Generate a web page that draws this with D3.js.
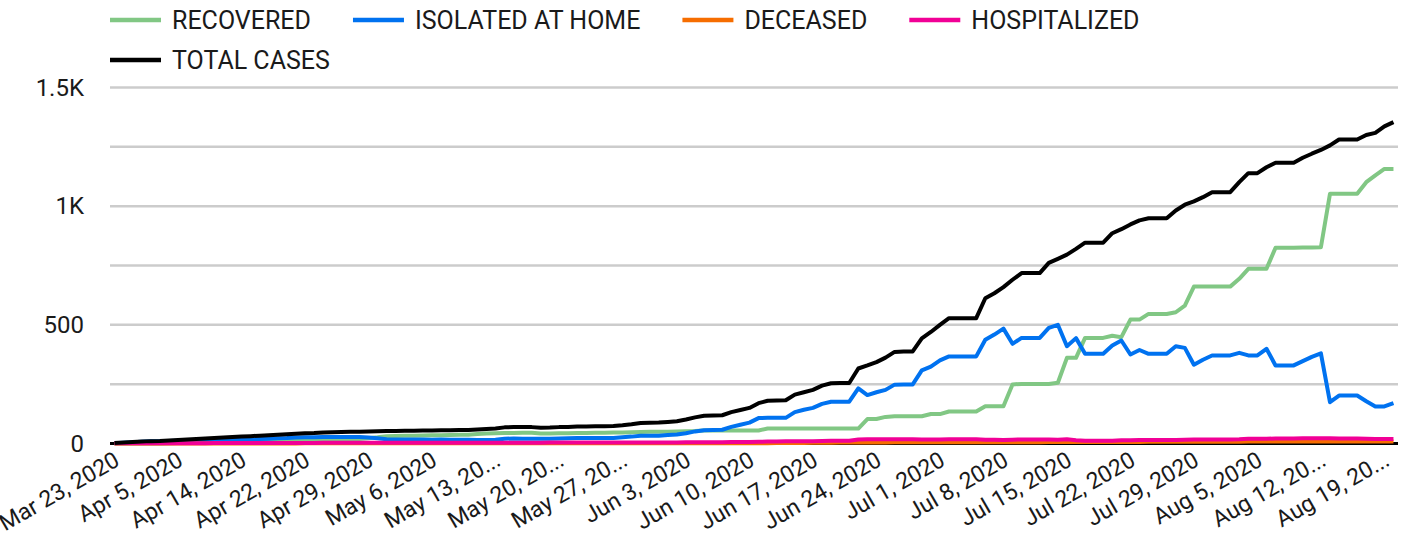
<!DOCTYPE html>
<html>
<head>
<meta charset="utf-8">
<script src="https://cdn.jsdelivr.net/npm/d3@7"></script>
<style>
  html, body { margin: 0; padding: 0; background: #fff; }
  svg { display: block; font-family: Roboto, "Noto Sans", sans-serif; }
</style>
</head>
<body>
<svg id="chart" width="1407" height="542"></svg>
<script>
// ---- DATA ----
const dates = [
  "03-23","03-25","03-27","03-29","03-31","04-02","04-03","04-05","04-06","04-08",
  "04-09","04-10","04-12","04-13","04-14","04-15","04-16","04-17","04-19","04-20","04-21",
  "04-22","04-23","04-24","04-25","04-26","04-27","04-28","04-29","04-30",
  "05-01","05-02","05-03","05-04","05-05","05-06","05-07","05-08","05-09","05-10",
  "05-11","05-12","05-13","05-14","05-15","05-16","05-17","05-18","05-19","05-20",
  "05-21","05-22","05-23","05-24","05-25","05-26","05-27","05-28","05-29","05-30","05-31",
  "06-01","06-02","06-03","06-04","06-05","06-06","06-07","06-08","06-09","06-10",
  "06-11","06-12","06-13","06-14","06-15","06-16","06-17","06-18","06-19","06-20",
  "06-21","06-22","06-23","06-24","06-25","06-26","06-27","06-28","06-29","06-30",
  "07-01","07-02","07-03","07-04","07-05","07-06","07-07","07-08","07-09","07-10",
  "07-11","07-12","07-13","07-14","07-15","07-16","07-17","07-18","07-19","07-20",
  "07-21","07-22","07-23","07-24","07-25","07-26","07-27","07-28","07-29","07-30","07-31",
  "08-01","08-02","08-03","08-04","08-05","08-06","08-07","08-08","08-09","08-10",
  "08-11","08-12","08-13","08-14","08-15","08-16","08-17","08-18","08-19","08-20"
];

const totalCases = [
  2,4,6,8,10,11,13,15,17,19, 21,23,25,27,29,31,33,35,37,39,41,
  43,44,46,47,48,49,50,51,52,
  53,53,54,54,55,55,56,56,57,57, 59,61,63,68,69,69,69,66,67,69,
  70,72,72,73,73,74,77,81,86,87,88,
  91,94,101,110,117,118,119,132,141,150,
  170,180,181,182,206,216,226,244,254,255,
  255,316,329,343,362,386,388,388,443,470,
  500,528,528,528,528,612,633,659,690,718,
  718,718,761,778,796,820,846,846,846,886,
  903,923,940,949,949,949,982,1006,1020,1038,1059,
  1059,1059,1101,1139,1139,1164,1183,1183,1183,1204,
  1221,1237,1256,1281,1281,1281,1300,1309,1336,1354
];

const recovered = [
  0,0,0,0,0,0,1,2,3,4, 5,6,8,10,11,12,12,13,13,14,14,
  14,15,15,16,17,18,19,22,26,
  31,32,33,33,34,35,35,36,37,37, 40,42,43,44,44,45,45,42,42,43,
  43,44,44,45,45,46,46,47,48,49,50,
  50,51,52,53,55,55,55,55,55,55,
  55,63,63,63,63,63,63,63,63,63,
  63,63,103,103,112,115,115,115,115,124,
  124,135,135,135,135,157,157,157,249,251,
  251,251,251,256,361,361,445,445,445,454,
  448,522,522,546,546,546,553,581,661,661,661,
  661,661,694,736,736,736,825,825,825,826,
  826,827,1052,1052,1052,1052,1101,1130,1157,1157
];

const isolatedAtHome = [
  1,3,5,7,9,10,11,12,13,14, 15,15,15,15,16,17,19,20,22,23,25,
  26,26,27,27,27,27,27,25,22,
  18,17,17,17,17,16,17,16,16,16, 15,15,16,20,21,20,20,20,20,21,
  22,23,23,23,23,23,26,29,33,33,33,
  36,38,43,51,56,57,58,70,79,88,
  107,108,108,108,132,142,150,167,176,176,
  176,232,204,216,226,248,249,249,308,324,
  350,367,367,367,367,437,459,484,420,445,
  445,445,487,500,410,444,378,378,378,413,
  434,375,394,378,378,378,410,403,332,353,371,
  371,371,382,371,371,399,329,329,329,347,
  365,380,174,202,202,202,178,156,156,170
];

const deceased = [
  0,0,0,0,0,0,0,0,0,0, 0,0,0,0,0,0,0,0,0,0,0,
  1,1,1,1,1,1,1,1,1,
  1,1,1,1,1,1,1,1,1,1, 1,1,1,1,1,1,1,1,1,1,
  1,1,1,1,1,1,1,1,1,1,1,
  1,1,1,1,1,1,1,1,1,1,
  1,1,2,2,2,2,3,3,3,4,
  4,4,4,4,4,5,5,5,5,5,
  5,5,5,5,5,5,5,5,5,5,
  5,5,6,6,6,6,6,6,6,6,
  6,6,6,7,7,7,7,7,7,7,7,
  7,7,7,8,8,8,8,8,8,8,
  8,8,8,8,8,8,8,8,8,8
];

const hospitalized = [
  1,1,1,1,1,1,1,1,1,1, 1,2,2,2,2,2,2,2,2,2,2,
  2,2,3,3,3,3,3,3,3,
  3,3,3,3,3,3,3,3,3,3, 3,3,3,3,3,3,3,3,4,4,
  4,4,4,4,4,4,4,4,4,4,4,
  4,4,5,5,5,5,5,6,6,6,
  7,8,8,9,9,9,10,11,12,12,
  12,17,18,18,18,18,18,18,17,17,
  17,18,18,18,18,16,16,15,16,17,
  17,17,17,16,18,14,12,12,12,12,
  14,14,15,15,15,15,15,16,17,17,17,
  17,17,18,20,20,20,21,21,21,22,
  22,22,22,21,21,21,20,19,19,19
];

const tickDates = ["03-23","04-05","04-14","04-22","04-29","05-06","05-13","05-20","05-27",
  "06-03","06-10","06-17","06-24","07-01","07-08","07-15","07-22","07-29","08-05","08-12","08-19"];
const tickLabels = ["Mar 23, 2020","Apr 5, 2020","Apr 14, 2020","Apr 22, 2020","Apr 29, 2020",
  "May 6, 2020","May 13, 20...","May 20, 20...","May 27, 20...","Jun 3, 2020","Jun 10, 2020",
  "Jun 17, 2020","Jun 24, 2020","Jul 1, 2020","Jul 8, 2020","Jul 15, 2020","Jul 22, 2020",
  "Jul 29, 2020","Aug 5, 2020","Aug 12, 20...","Aug 19, 20..."];

const yTickValues = [0, 500, 1000, 1500];
const yTickLabels = ["0", "500", "1K", "1.5K"];
const yGridValues = [250, 500, 750, 1000, 1250, 1500];

const seriesNames = ["RECOVERED", "ISOLATED AT HOME", "DECEASED", "HOSPITALIZED", "TOTAL CASES"];
const seriesColors = ["#81c784", "#0072f0", "#f66d00", "#f10096", "#000000"];
const seriesValues = [recovered, isolatedAtHome, deceased, hospitalized, totalCases];

// ---- CHART ----
const svg = d3.select("#chart");
const plotLeft = 110, plotRight = 1398, plotTop = 87.5, plotBottom = 443.5;

const x = d3.scalePoint().domain(dates).range([plotLeft, plotRight]).padding(0.5);
const y = d3.scaleLinear().domain([0, 1500]).range([plotBottom, plotTop]);

// gridlines
svg.append("g")
  .selectAll("line")
  .data(yGridValues)
  .join("line")
  .attr("x1", plotLeft).attr("x2", plotRight)
  .attr("y1", d => y(d)).attr("y2", d => y(d))
  .attr("stroke", "#cccccc")
  .attr("stroke-width", 2.5);

// y axis labels
const yAxis = d3.axisLeft(y)
  .tickValues(yTickValues)
  .tickFormat((d, i) => yTickLabels[i])
  .tickSize(0)
  .tickPadding(0);
const yg = svg.append("g").attr("transform", `translate(${plotLeft - 26},0)`).call(yAxis);
yg.select(".domain").remove();
yg.selectAll("text")
  .attr("font-size", 24)
  .attr("font-family", "Roboto")
  .attr("fill", "#1a1a1a");

// x axis labels
const xAxis = d3.axisBottom(x)
  .tickValues(tickDates)
  .tickFormat((d, i) => tickLabels[i])
  .tickSize(0);
const xg = svg.append("g").attr("transform", `translate(0,${plotBottom})`).call(xAxis);
xg.select(".domain").remove();
xg.selectAll("text")
  .attr("font-size", 23)
  .attr("font-family", "Roboto")
  .attr("fill", "#1a1a1a")
  .attr("text-anchor", "end")
  .attr("dy", null)
  .attr("y", null)
  .attr("transform", "translate(6,21) rotate(-30)");

// baseline
svg.append("line")
  .attr("x1", plotLeft).attr("x2", plotRight)
  .attr("y1", y(0)).attr("y2", y(0))
  .attr("stroke", "#000")
  .attr("stroke-width", 3);

// lines
const line = d3.line()
  .x((d, i) => x(dates[i]))
  .y(d => y(d));

svg.append("g")
  .selectAll("path")
  .data(seriesValues)
  .join("path")
  .attr("d", d => line(d))
  .attr("fill", "none")
  .attr("stroke", (d, i) => seriesColors[i])
  .attr("stroke-width", 4)
  .attr("stroke-linejoin", "round")
  .attr("stroke-linecap", "butt");

// legend
const legend = svg.append("g");
let lx = 110, ly = 20;
seriesNames.forEach((name, i) => {
  const g = legend.append("g");
  const t = g.append("text")
    .attr("font-size", 25)
    .attr("font-family", "Roboto")
    .attr("fill", "#1a1a1a")
    .text(name);
  const w = t.node().getComputedTextLength();
  if (lx + 62 + w > 1370) { lx = 110; ly += 40; }
  g.append("line")
    .attr("x1", lx).attr("x2", lx + 51)
    .attr("y1", ly).attr("y2", ly)
    .attr("stroke", seriesColors[i])
    .attr("stroke-width", 4.5);
  t.attr("x", lx + 62).attr("y", ly + 9);
  lx += 62 + w + 42;
});
</script>
</body>
</html>
